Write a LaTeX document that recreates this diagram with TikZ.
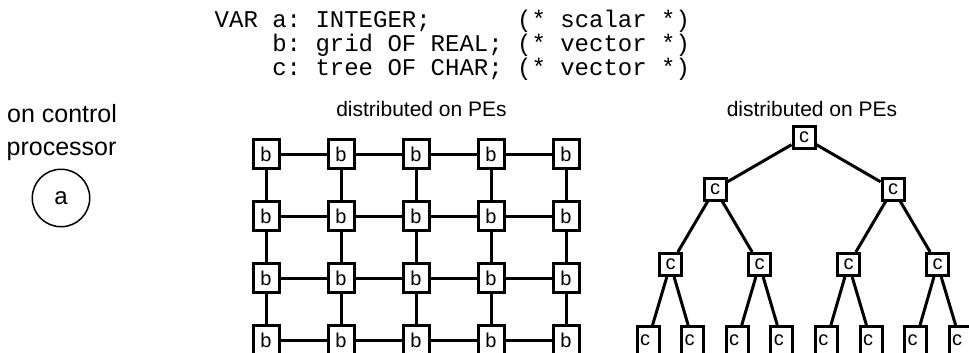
\documentclass[tikz,border=0pt]{standalone}
\usepackage{fontspec}
\setmainfont{Liberation Sans}
\setmonofont{Liberation Mono}

\tikzset{
	pe/.style={draw, line width=3pt, minimum width=26pt, minimum height=29pt, inner sep=0pt, font=\fontsize{20}{24}\selectfont},
	tpe/.style={draw, line width=3pt, minimum width=22pt, minimum height=22pt, inner sep=0pt, font=\fontsize{20}{24}\selectfont},
	leaf/.style={tpe, minimum height=28pt, inner xsep=2pt, text width=16pt, align=left},
	link/.style={line width=3pt},
	code/.style={anchor=base west, inner sep=0pt, font=\ttfamily\frenchspacing\fontsize{24}{24}\selectfont},
	label/.style={inner sep=0pt, font=\fontsize{21}{25}\selectfont}
}

\begin{document}
\begin{tikzpicture}[x=1pt, y=-1pt]
	\useasboundingbox (0,0) rectangle (969,353);
	\clip (0,0) rectangle (969,353);

	% declarations
	\node[code] (L1) at (214.5,28) {VAR a: INTEGER;\ \ \ \ \ \ (* scalar *)};
	\node[code] (L2) at (214.5,52) {\ \ \ \ b: grid OF REAL; (* vector *)};
	\node[code] (L3) at (214.5,76) {\ \ \ \ c: tree OF CHAR; (* vector *)};

	% scalar
	\node[anchor=base west, inner sep=0pt, font=\fontsize{25}{30}\selectfont] (T1) at (7,122) {on control};
	\node[anchor=base west, inner sep=0pt, font=\fontsize{25}{30}\selectfont] (T2) at (6.5,155) {processor};
	\node[draw, circle, line width=1.5pt, minimum size=57.5pt, inner sep=0pt, font=\fontsize{24}{28}\selectfont] (A) at (61,198) {a};

	% grid
	\node[label, anchor=base] (GL) at (421.5,116) {distributed on PEs};
	\node[pe] (B11) at (266,154) {b};
	\node[pe] (B12) at (341,154) {b};
	\node[pe] (B13) at (416,154) {b};
	\node[pe] (B14) at (491,154) {b};
	\node[pe] (B15) at (566,154) {b};
	\node[pe] (B21) at (266,216) {b};
	\node[pe] (B22) at (341,216) {b};
	\node[pe] (B23) at (416,216) {b};
	\node[pe] (B24) at (491,216) {b};
	\node[pe] (B25) at (566,216) {b};
	\node[pe] (B31) at (266,278) {b};
	\node[pe] (B32) at (341,278) {b};
	\node[pe] (B33) at (416,278) {b};
	\node[pe] (B34) at (491,278) {b};
	\node[pe] (B35) at (566,278) {b};
	\node[pe] (B41) at (266,340) {b};
	\node[pe] (B42) at (341,340) {b};
	\node[pe] (B43) at (416,340) {b};
	\node[pe] (B44) at (491,340) {b};
	\node[pe] (B45) at (566,340) {b};

	\draw[link] (B11) -- (B12) -- (B13) -- (B14) -- (B15);
	\draw[link] (B21) -- (B22) -- (B23) -- (B24) -- (B25);
	\draw[link] (B31) -- (B32) -- (B33) -- (B34) -- (B35);
	\draw[link] (B41) -- (B42) -- (B43) -- (B44) -- (B45);
	\draw[link] (B11) -- (B21) -- (B31) -- (B41);
	\draw[link] (B12) -- (B22) -- (B32) -- (B42);
	\draw[link] (B13) -- (B23) -- (B33) -- (B43);
	\draw[link] (B14) -- (B24) -- (B34) -- (B44);
	\draw[link] (B15) -- (B25) -- (B35) -- (B45);

	% tree
	\node[label, anchor=base] (TL) at (812,116.5) {distributed on PEs};
	\node[tpe] (C1) at (804,137.5) {c};
	\node[tpe] (C2) at (715,189) {c};
	\node[tpe] (C3) at (893,189) {c};
	\node[tpe] (C4) at (670.5,264.5) {c};
	\node[tpe] (C5) at (759.5,264.5) {c};
	\node[tpe] (C6) at (848.5,264.5) {c};
	\node[tpe] (C7) at (937.5,264.5) {c};
	\node[leaf] (C8) at (648,340.5) {c};
	\node[leaf] (C9) at (692.6,340.5) {c};
	\node[leaf] (C10) at (737.2,340.5) {c};
	\node[leaf] (C11) at (781.8,340.5) {c};
	\node[leaf] (C12) at (826.4,340.5) {c};
	\node[leaf] (C13) at (871,340.5) {c};
	\node[leaf] (C14) at (915.6,340.5) {c};
	\node[leaf] (C15) at (960.2,340.5) {c};

	\draw[link] (C1) -- (C2);
	\draw[link] (C1) -- (C3);
	\draw[link] (C2) -- (C4);
	\draw[link] (C2) -- (C5);
	\draw[link] (C3) -- (C6);
	\draw[link] (C3) -- (C7);
	\draw[link] (C4) -- (C8);
	\draw[link] (C4) -- (C9);
	\draw[link] (C5) -- (C10);
	\draw[link] (C5) -- (C11);
	\draw[link] (C6) -- (C12);
	\draw[link] (C6) -- (C13);
	\draw[link] (C7) -- (C14);
	\draw[link] (C7) -- (C15);
\end{tikzpicture}
\end{document}
